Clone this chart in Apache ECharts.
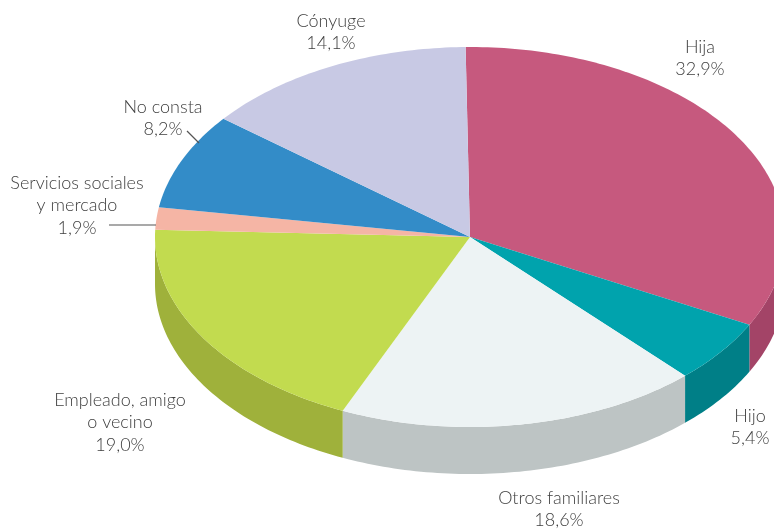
<!DOCTYPE html>
<html>
<head>
<meta charset="utf-8">
<style>
  html, body { margin: 0; padding: 0; background: #fff; }
  #chart { width: 774px; height: 531px; }
</style>
<script src="https://cdn.jsdelivr.net/npm/echarts@6/dist/echarts.min.js"></script>
</head>
<body>
<div id="chart"></div>
<script>
var categories = ['Hija', 'Hijo', 'Otros familiares', 'Empleado, amigo\no vecino', 'Servicios sociales\ny mercado', 'No consta', 'Cónyuge'];
var values = [32.9, 5.4, 18.6, 19.0, 1.9, 8.2, 14.1];
var topColors = ['#C6597E', '#00A3AD', '#EDF3F4', '#C2DB4F', '#F5B5A5', '#338CC8', '#C8C9E4'];
var sideColors = ['#A34467', '#007F87', '#BDC4C4', '#9FB13B', '#F5B5A5', '#338CC8', '#C8C9E4'];

// posicion de cada etiqueta (centro de la primera linea)
var labelX = [700, 750, 559, 120, 77, 163, 331];
var labelY = [47, 416, 498, 400, 183, 107, 21];
// lineas guia
var leaders = [
    [[187, 131], [199, 143]],
    [[109, 225], [156, 225]]
];

// elipse del pastel
var cx = 470, cy = 237, rx = 315, ry = 190, depth = 47;
var startAngle = -0.8;
var total = values.reduce(function (a, b) { return a + b; }, 0);

function pointAt(deg, offset) {
    var r = deg * Math.PI / 180;
    return [cx + rx * Math.sin(r), cy - ry * Math.cos(r) + (offset || 0)];
}

function arcPoints(from, to, offset) {
    var pts = [];
    for (var a = from; a < to; a += 1) pts.push(pointAt(a, offset));
    pts.push(pointAt(to, offset));
    return pts;
}

function renderSlice(params, api) {
    var i = params.dataIndex;
    var from = startAngle;
    for (var k = 0; k < i; k++) from += values[k] / total * 360;
    var to = from + api.value(0) / total * 360;
    var children = [];

    // pared lateral: solo la mitad delantera de la elipse
    var sideFrom = Math.max(from, 90), sideTo = Math.min(to, 270);
    if (sideTo > sideFrom) {
        children.push({
            type: 'polygon',
            shape: { points: arcPoints(sideFrom, sideTo, 0).concat(arcPoints(sideFrom, sideTo, depth).reverse()) },
            style: { fill: sideColors[i] }
        });
    }
    children.push({
        type: 'polygon',
        shape: { points: [[cx, cy]].concat(arcPoints(from, to, 0)) },
        style: { fill: topColors[i] }
    });
    children.push({
        type: 'text',
        style: {
            text: categories[i] + '\n' + api.value(0).toFixed(1).replace('.', ',') + '%',
            x: labelX[i],
            y: labelY[i] - 11.5,
            align: 'center',
            verticalAlign: 'top',
            fill: '#404040',
            font: '300 18px Lato, "Open Sans", sans-serif',
            lineHeight: 22.5
        }
    });
    return { type: 'group', children: children };
}

var chart = echarts.init(document.getElementById('chart'));
chart.setOption({
    animation: false,
    backgroundColor: '#fff',
    series: [
        {
            type: 'custom',
            coordinateSystem: 'none',
            data: values,
            renderItem: renderSlice,
            silent: true
        },
        {
            type: 'custom',
            coordinateSystem: 'none',
            data: leaders,
            silent: true,
            renderItem: function (params) {
                return {
                    type: 'polyline',
                    shape: { points: leaders[params.dataIndex] },
                    style: { stroke: '#555', lineWidth: 1.2, fill: null }
                };
            }
        }
    ]
});
</script>
</body>
</html>
